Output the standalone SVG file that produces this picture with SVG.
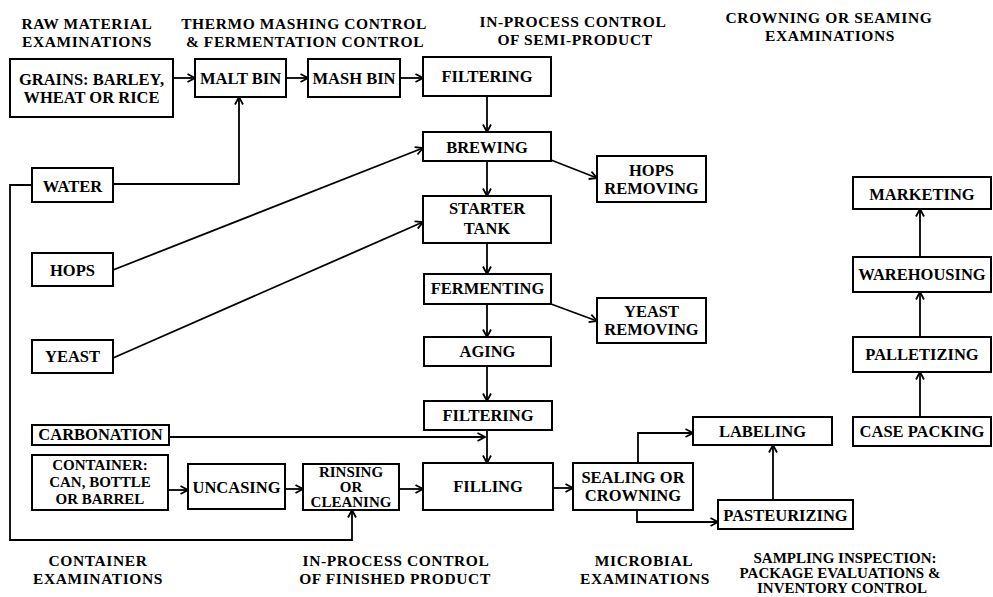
<svg xmlns="http://www.w3.org/2000/svg" width="993" height="597" viewBox="0 0 993 597">
<style>
text{font-family:"Liberation Serif","Times New Roman",serif;font-weight:bold;font-size:16.5px;text-anchor:middle;fill:#000}
text.h{font-size:15.5px;letter-spacing:0.6px}
text.s{font-size:15px}
.box{fill:#fff;stroke:#000;stroke-width:2}
.c{fill:none;stroke:#000;stroke-width:1.8}
.a{marker-end:url(#arr)}
</style>
<defs>
<marker id="arr" markerUnits="userSpaceOnUse" markerWidth="10" markerHeight="10" refX="9" refY="5" orient="auto">
<path d="M1.5,1 L9,5 L1.5,9" fill="none" stroke="#000" stroke-width="1.8"/>
</marker>
</defs>
<rect width="993" height="597" fill="#fff"/>
<g id="headers">
<text class="h" x="87" y="29">RAW MATERIAL</text>
<text class="h" x="87" y="46.5">EXAMINATIONS</text>
<text class="h" x="304" y="29">THERMO MASHING CONTROL</text>
<text class="h" x="305" y="46.5">&amp; FERMENTATION CONTROL</text>
<text class="h" x="573" y="27">IN-PROCESS CONTROL</text>
<text class="h" x="575" y="44.5">OF SEMI-PRODUCT</text>
<text class="h" x="829" y="23">CROWNING OR SEAMING</text>
<text class="h" x="830" y="40.5">EXAMINATIONS</text>
<text class="h" x="98" y="566">CONTAINER</text>
<text class="h" x="98" y="583.5">EXAMINATIONS</text>
<text class="h" x="396" y="566">IN-PROCESS CONTROL</text>
<text class="h" x="395" y="583.5">OF FINISHED PRODUCT</text>
<text class="h" x="644" y="566">MICROBIAL</text>
<text class="h" x="645" y="583.5">EXAMINATIONS</text>
<text class="s" x="845" y="563">SAMPLING INSPECTION:</text>
<text class="s" x="840" y="578">PACKAGE EVALUATIONS &amp;</text>
<text class="s" x="842" y="593">INVENTORY CONTROL</text>
</g>
<g id="connectors">
<line class="c a" x1="173" y1="78" x2="195" y2="78"/>
<line class="c a" x1="286" y1="78" x2="308" y2="78"/>
<line class="c a" x1="400" y1="78" x2="423" y2="78"/>
<line class="c a" x1="487" y1="96" x2="487" y2="132"/>
<polyline class="c a" points="113,184 239,184 239,97"/>
<line class="c a" x1="487" y1="161" x2="487" y2="196"/>
<line class="c a" x1="551" y1="160" x2="597" y2="178"/>
<line class="c a" x1="113" y1="270" x2="423" y2="148"/>
<line class="c a" x1="113" y1="358" x2="423" y2="222"/>
<line class="c a" x1="487" y1="243" x2="487" y2="274"/>
<line class="c a" x1="551" y1="304" x2="597" y2="321"/>
<line class="c a" x1="487" y1="304" x2="487" y2="337"/>
<line class="c a" x1="487" y1="366" x2="487" y2="401"/>
<line class="c a" x1="487" y1="430" x2="487" y2="463"/>
<line class="c a" x1="169" y1="437" x2="485" y2="437"/>
<line class="c a" x1="168" y1="490" x2="188" y2="490"/>
<line class="c a" x1="285" y1="489" x2="303" y2="489"/>
<line class="c a" x1="399" y1="489" x2="423" y2="489"/>
<polyline class="c a" points="32,185 10,185 10,540 352,540 352,510"/>
<line class="c a" x1="553" y1="488" x2="573" y2="488"/>
<polyline class="c a" points="638,463 638,433 693,433"/>
<polyline class="c a" points="637,510 637,522 718,522"/>
<line class="c a" x1="773" y1="500" x2="773" y2="445"/>
<line class="c a" x1="920" y1="417" x2="920" y2="372"/>
<line class="c a" x1="920" y1="337" x2="920" y2="292"/>
<line class="c a" x1="920" y1="257" x2="920" y2="209"/>
</g>
<g id="grains"><rect class="box" x="10" y="59" width="163" height="58"/><text x="91.5" y="85">GRAINS: BARLEY,</text><text x="91.5" y="103">WHEAT OR RICE</text></g>
<g id="malt-bin"><rect class="box" x="195" y="59" width="91" height="38"/><text x="240.5" y="84">MALT BIN</text></g>
<g id="mash-bin"><rect class="box" x="308" y="59" width="92" height="38"/><text x="354" y="84">MASH BIN</text></g>
<g id="filtering1"><rect class="box" x="423" y="57" width="128" height="39"/><text x="487" y="82">FILTERING</text></g>
<g id="brewing"><rect class="box" x="423" y="132" width="128" height="29"/><text x="487" y="153">BREWING</text></g>
<g id="hops-removing"><rect class="box" x="597" y="156" width="109" height="46"/><text x="651.5" y="176">HOPS</text><text x="651.5" y="194">REMOVING</text></g>
<g id="starter-tank"><rect class="box" x="423" y="196" width="128" height="47"/><text x="487" y="214">STARTER</text><text x="487" y="234">TANK</text></g>
<g id="fermenting"><rect class="box" x="424" y="274" width="127" height="30"/><text x="487.5" y="294">FERMENTING</text></g>
<g id="yeast-removing"><rect class="box" x="597" y="298" width="109" height="45"/><text x="651.5" y="317">YEAST</text><text x="651.5" y="335">REMOVING</text></g>
<g id="aging"><rect class="box" x="424" y="337" width="127" height="29"/><text x="487.5" y="357">AGING</text></g>
<g id="filtering2"><rect class="box" x="424" y="401" width="128" height="29"/><text x="488" y="421">FILTERING</text></g>
<g id="water"><rect class="box" x="32" y="168" width="81" height="34"/><text x="72.5" y="192">WATER</text></g>
<g id="hops"><rect class="box" x="32" y="253" width="81" height="33"/><text x="72.5" y="276">HOPS</text></g>
<g id="yeast"><rect class="box" x="32" y="340" width="81" height="33"/><text x="72.5" y="362">YEAST</text></g>
<g id="carbonation"><rect class="box" x="32" y="425" width="137" height="20"/><text x="100.5" y="440">CARBONATION</text></g>
<g id="container"><rect class="box" x="32" y="455" width="136" height="55"/><text class="s" x="100" y="470">CONTAINER:</text><text class="s" x="100" y="487">CAN, BOTTLE</text><text class="s" x="100" y="504">OR BARREL</text></g>
<g id="uncasing"><rect class="box" x="188" y="464" width="97" height="45"/><text x="236.5" y="493">UNCASING</text></g>
<g id="rinsing"><rect class="box" x="303" y="464" width="96" height="46"/><text class="s" x="351" y="477">RINSING</text><text class="s" x="351" y="492">OR</text><text class="s" x="351" y="507">CLEANING</text></g>
<g id="filling"><rect class="box" x="423" y="463" width="130" height="47"/><text x="488" y="492">FILLING</text></g>
<g id="sealing"><rect class="box" x="573" y="463" width="120" height="47"/><text x="633" y="483">SEALING OR</text><text x="633" y="501">CROWNING</text></g>
<g id="labeling"><rect class="box" x="693" y="417" width="139" height="28"/><text x="762.5" y="437">LABELING</text></g>
<g id="pasteurizing"><rect class="box" x="718" y="500" width="135" height="29"/><text x="785.5" y="521">PASTEURIZING</text></g>
<g id="case-packing"><rect class="box" x="853" y="417" width="138" height="29"/><text x="922" y="437">CASE PACKING</text></g>
<g id="palletizing"><rect class="box" x="853" y="337" width="138" height="35"/><text x="922" y="360">PALLETIZING</text></g>
<g id="warehousing"><rect class="box" x="853" y="257" width="138" height="35"/><text x="922" y="280">WAREHOUSING</text></g>
<g id="marketing"><rect class="box" x="853" y="177" width="138" height="32"/><text x="922" y="200">MARKETING</text></g>
</svg>
